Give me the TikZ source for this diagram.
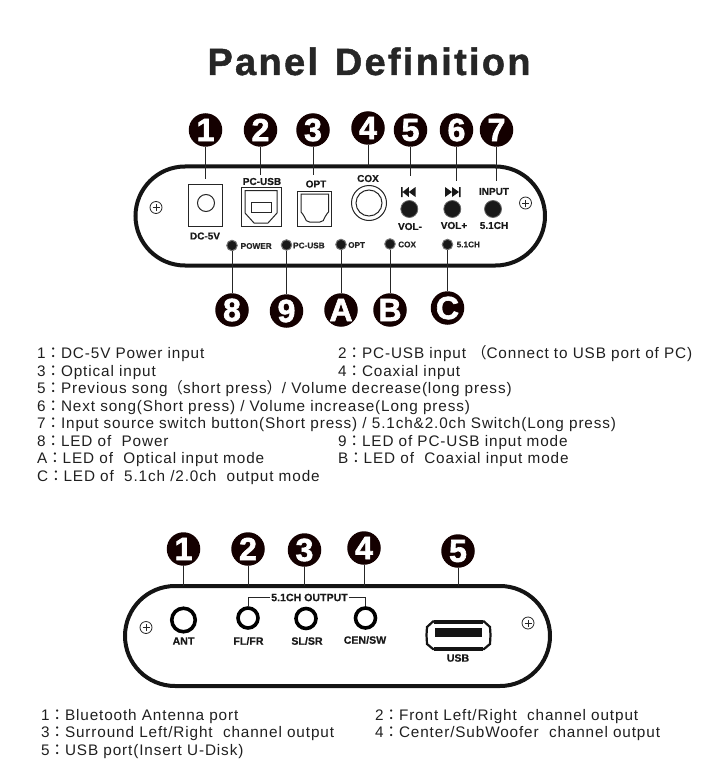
\documentclass[tikz,border=0pt]{standalone}
\usepackage{fontspec}
\setmainfont{Liberation Sans}
\newfontfamily\bodyfont[LetterSpace=5.8]{Liberation Sans}
\newfontfamily\titlefont[LetterSpace=6,BoldFeatures={FakeBold=1.2,LetterSpace=6}]{Liberation Sans}
\newfontfamily\badgefont[BoldFeatures={FakeBold=2}]{Liberation Sans}
\newfontfamily\labfont[BoldFeatures={FakeBold=.4}]{Liberation Sans}
\newfontfamily\cjk{Noto Sans CJK TC}
\newcommand{\fw}[1]{{\cjk #1}}
\tikzset{
  badge/.style={circle,fill=black!92!red,minimum size=33.5pt,inner sep=0pt,text=white,font=\fontsize{32}{32}\selectfont\badgefont\bfseries},
  leader/.style={line width=1pt,black!85},
  panelline/.style={line width=4pt,black!92},
  body/.style={anchor=base west,inner sep=0pt,font=\fontsize{15.3}{15.3}\selectfont\bodyfont,text=black!88},
  lab/.style={inner sep=0pt,font=\fontsize{10}{10}\selectfont\labfont\bfseries,text=black!90},
  labb/.style={lab,font=\fontsize{10.6}{10.6}\selectfont\labfont\bfseries},
  ledlab/.style={anchor=west,inner sep=0pt,font=\fontsize{8.2}{8.2}\selectfont\labfont\bfseries,text=black!85},
  led/.style={circle,fill=black!90,draw=black!55,line width=1pt,minimum size=10.5pt,inner sep=0pt},
  knob/.style={circle,fill=black!90,draw=black!60,line width=.8pt,minimum size=17pt,inner sep=0pt},
  jack/.style={circle,draw=black,line width=3.6pt,minimum size=20pt,inner sep=0pt},
  part/.style={draw=black!85,line width=1pt},
  screw/.style={circle,draw=black!85,line width=.8pt,minimum size=12pt,inner sep=0pt,path picture={\draw[line width=.8pt] (path picture bounding box.center)+(-3.5pt,0)--+(3.5pt,0) (path picture bounding box.center)+(0,-3.5pt)--+(0,3.5pt);}}
}
\begin{document}
\begin{tikzpicture}[x=1pt,y=-1pt]
\useasboundingbox (0,0) rectangle (716,770);
\node[anchor=base,inner sep=0pt,font=\fontsize{38}{38}\selectfont\titlefont\bfseries,text=black!85] (title) at (369,75) {Panel\hspace{4pt} Definition};
% panel 1
\draw[panelline] (185,166.5) -- (495.5,166.5) arc (-90:90:49.5) -- (185,265.5) arc (90:270:49.5) -- cycle;
\node[screw] (s1) at (156,207.5) {};
\node[screw] (s2) at (525.5,203) {};
% badges
\foreach \n/\t/\x/\y in {a1/1/205.5/130,a2/2/260.5/130,a3/3/313/130,a4/4/368/128,a5/5/410.5/130,a6/6/456.5/130,a7/7/496.5/130,
  a8/8/232/310,a9/9/286.5/311,aA/A/341/310,aB/B/390/310,aC/C/447.5/308}
  \node[badge] (\n) at (\x,\y) {\t};
% parts
\node[draw=black!85,line width=1pt,minimum width=34.5pt,minimum height=42.5pt,inner sep=0pt] (dc) at (205.5,205.3) {};
\node[part,circle,minimum size=17pt,inner sep=0pt] (dcj) at (206,203) {};
\node[lab] (dcl) at (205,236) {DC-5V};
\node[draw=black!85,line width=1pt,minimum width=40pt,minimum height=39pt,inner sep=0pt] (usb) at (261,206.5) {};
\draw[part] (245,190.5) -- (277,190.5) -- (277,213) -- (268,223) -- (254,223) -- (245,213) -- cycle;
\draw[part] (251.5,202) rectangle (271.5,212);
\node[lab] (usbl) at (262,181.5) {PC-USB};
\node[draw=black!85,line width=1pt,minimum width=34pt,minimum height=35pt,inner sep=0pt] (opt) at (314.7,208.5) {};
\draw[part] (301,194) -- (328.5,194) -- (328.5,212) .. controls (328.5,214) and (325,214) .. (325,217) .. controls (325,220) and (322,222) .. (320,222) -- (309.5,222) .. controls (307.5,222) and (304.5,220) .. (304.5,217) .. controls (304.5,214) and (301,214) .. (301,212) -- cycle;
\node[lab] (optl) at (316,184) {OPT};
\node[part,circle,minimum size=35pt,inner sep=0pt] (cox) at (369,203) {};
\node[part,circle,minimum size=26pt,inner sep=0pt] (coxi) at (369,203) {};
\node[lab] (coxl) at (368,178.5) {COX};
% prev/next
\fill[black!90] (401,187) rectangle (402.6,197) (402.6,192) -- (408.8,187) -- (408.8,197) -- cycle (408.8,192) -- (415.5,187) -- (415.5,197) -- cycle;
\fill[black!90] (445,187) -- (445,197) -- (452,192) -- cycle (452,187) -- (452,197) -- (459,192) -- cycle (459,187) rectangle (460.6,197);
\node[knob] (k1) at (409.3,209) {};
\node[knob] (k2) at (452.3,209) {};
\node[knob] (k3) at (493,209) {};
\node[lab] at (410,226.5) {VOL-};
\node[lab] at (454,225.5) {VOL+};
\node[lab] at (494,191.5) {INPUT};
\node[lab] at (494,225.5) {5.1CH};
% leds
\node[led] (l8) at (232,245.5) {};
\node[led] (l9) at (286.5,245) {};
\node[led] (lA) at (341,244.5) {};
\node[led] (lB) at (390,244) {};
\node[led] (lC) at (447.5,244.5) {};
\node[ledlab] at (240.5,246) {POWER};
\node[ledlab] at (293,245.5) {PC-USB};
\node[ledlab] at (348,245) {OPT};
\node[ledlab] at (398,244.5) {COX};
\node[ledlab] at (456.5,244.5) {5.1CH};
% leaders
\coordinate (e1) at (205.5,179);
\coordinate (e2) at (260.5,175);
\coordinate (e3) at (313,175);
\coordinate (e4) at (368,166);
\coordinate (e5) at (410.5,176);
\coordinate (e6) at (456.5,181);
\coordinate (e7) at (496.5,181);
\draw[leader] (a1)--(e1) (a2)--(e2) (a3)--(e3) (a4)--(e4) (a5)--(e5) (a6)--(e6) (a7)--(e7);
\draw[leader] (a8)--(l8) (a9)--(l9) (aA)--(lA) (aB)--(lB) (aC)--(lC);
% text block 1
\node[body] at (37,358) {1\fw{：}DC-5V Power input};
\node[body] at (338,358) {2\fw{：}PC-USB input \fw{（}Connect to USB port of PC)};
\node[body] at (37,376) {3\fw{：}Optical input};
\node[body] at (338,376) {4\fw{：}Coaxial input};
\node[body] at (37,393) {5\fw{：}Previous song\fw{（}short press\fw{）}/ Volume decrease(long press)};
\node[body] at (37,411) {6\fw{：}Next song(Short press) / Volume increase(Long press)};
\node[body] at (37,428) {7\fw{：}Input source switch button(Short press) / 5.1ch\&2.0ch Switch(Long press)};
\node[body] at (37,446) {8\fw{：}LED of~~Power};
\node[body] at (338,446) {9\fw{：}LED of PC-USB input mode};
\node[body] at (37,463) {A\fw{：}LED of~~Optical input mode};
\node[body] at (338,463) {B\fw{：}LED of~~Coaxial input mode};
\node[body] at (37,481) {C\fw{：}LED of~~5.1ch /2.0ch~~output mode};
% panel 2
\draw[panelline] (175,586) -- (500,586) arc (-90:90:50) -- (175,686) arc (90:270:50) -- cycle;
\node[screw] (s3) at (146,627.5) {};
\node[screw] (s4) at (528,623) {};
\foreach \n/\t/\x/\y in {b1/1/183.5/549,b2/2/248/549,b3/3/304.5/550,b4/4/364/548,b5/5/458/551}
  \node[badge] (\n) at (\x,\y) {\t};
\node[jack,minimum size=23.5pt] (j1) at (183.5,620) {};
\node[jack] (j2) at (248,618) {};
\node[jack] (j3) at (306,618.5) {};
\node[jack] (j4) at (365.5,618) {};
\node[labb] at (183.5,641) {ANT};
\node[labb] at (248.5,641) {FL/FR};
\node[labb] at (307,641) {SL/SR};
\node[labb] at (365,640) {CEN/SW};
\node[labb,inner xsep=1pt] (out) at (309.5,597.5) {5.1CH OUTPUT};
\draw[line width=1pt,black!85] (out.west) -| (j2.north);
\draw[line width=1pt,black!85] (out.east) -| (j4.north);
\coordinate (f1) at (183.5,586);
\coordinate (f2) at (248,586);
\coordinate (f3) at (304.5,586);
\coordinate (f4) at (364,586);
\coordinate (f5) at (458,586);
\draw[leader] (b1)--(f1) (b2)--(f2) (b3)--(f3) (b4)--(f4) (b5)--(f5);
% usb
\draw[line width=2.2pt,black!92] (433,621.5) -- (484,621.5) -- (490,627) -- (490.5,635) -- (490,644) -- (484,649) -- (433,649) -- (427,644) -- (426.5,635) -- (427,627) -- cycle;
\draw[line width=4pt,black!92] (434,622) -- (483,622) (434,648.5) -- (483,648.5);
\fill[black!92] (435,628) rectangle (482,636.7);
\node[labb] (usbt) at (458,658) {USB};
% text block 2
\node[body] at (41,720) {1\fw{：}Bluetooth Antenna port};
\node[body] at (375,720) {2\fw{：}Front Left/Right~~channel output};
\node[body] at (41,737) {3\fw{：}Surround Left/Right~~channel output};
\node[body] at (375,737) {4\fw{：}Center/SubWoofer~~channel output};
\node[body] at (41,755) {5\fw{：}USB port(Insert U-Disk)};
\end{tikzpicture}
\end{document}
